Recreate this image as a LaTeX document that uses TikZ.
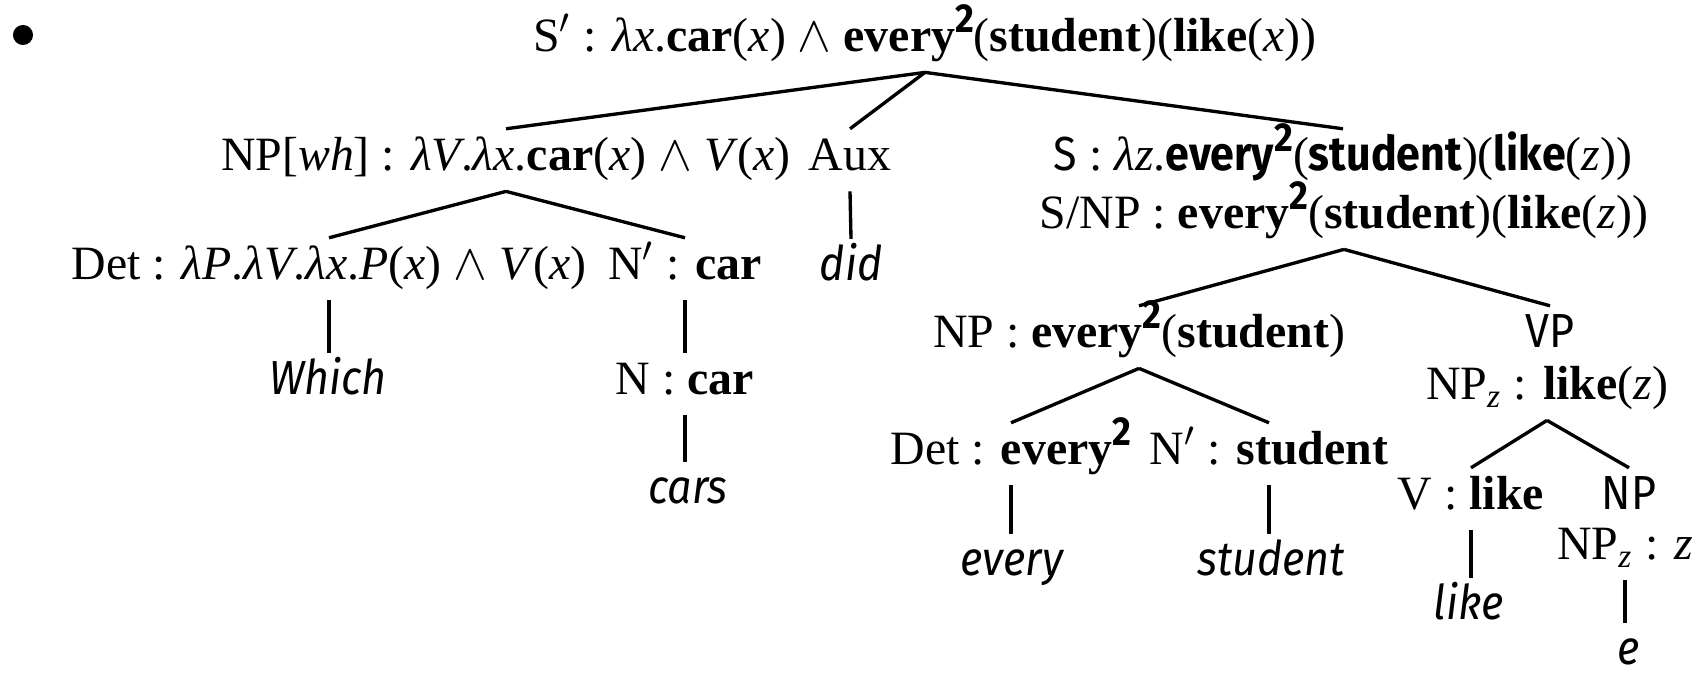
\documentclass[tikz,border=0pt]{standalone}
\usepackage{fontspec}
\setmainfont{Liberation Serif}
\setsansfont[FakeStretch=0.9]{Fira Sans}
\newcommand{\bw}[1]{\textbf{#1}}
\newcommand{\sbw}[1]{{\sffamily\bfseries #1}}
\newcommand{\two}{\raisebox{.40em}{\sffamily\bfseries\fontsize{11.5}{11.5}\selectfont 2}}
\newcommand{\vi}[1]{\textit{#1}}
\newcommand{\wrd}[1]{{\sffamily\itshape #1}}
\newcommand{\lam}{\textit{λ}}
\begin{document}
\begin{tikzpicture}[x=0.01cm,y=-0.01cm,
  lab/.style={inner sep=0pt, text height=11.8pt, text depth=5.6pt, anchor=base,
    font=\fontsize{13.6}{16}\selectfont},
  edge/.style={line width=0.95pt}]
\useasboundingbox (0,0) rectangle (1706,674);
\node[circle, fill, inner sep=0pt, minimum size=5.7pt] (bullet) at (23,35) {};
\node[lab] (root) at (925,52) {S$'$ : \lam\vi{x}.\bw{car}(\vi{x}) $\wedge$ \bw{every}\two(\bw{student})(\bw{like}(\vi{x}))};
\node[lab] (npwh) at (506,171) {NP[\vi{wh}] : \lam\vi{V}.\lam\vi{x}.\bw{car}(\vi{x}) $\wedge$ \vi{V}(\vi{x})};
\node[lab] (aux) at (850,171) {Aux};
\node[lab] (sl) at (1343,171) {{\sffamily S} : \lam\vi{z}.\sbw{every}\two(\sbw{student})(\sbw{like}(\vi{z}))};
\node[lab] (snp) at (1344,229) {S/NP : \bw{every}\two(\bw{student})(\bw{like}(\vi{z}))};
\node[lab] (det) at (329,280) {Det : \lam\vi{P}.\lam\vi{V}.\lam\vi{x}.\vi{P}(\vi{x}) $\wedge$ \vi{V}(\vi{x})};
\node[lab] (nbar) at (685,280) {N$'$ : \bw{car}};
\node[lab] (did) at (851,281) {\wrd{did}};
\node[lab] (which) at (328,395) {\wrd{Which}};
\node[lab] (n) at (685,395) {N : \bw{car}};
\node[lab] (cars) at (688,504) {\wrd{cars}};
\node[lab] (np2) at (1139,348) {NP : \bw{every}\two(\bw{student})};
\node[lab] (vp) at (1550,348) {{\sffamily VP}};
\node[lab] (npz) at (1547,400) {NP\textsubscript{\vi{z}} : \bw{like}(\vi{z})};
\node[lab] (det2) at (1011,465) {Det : \bw{every}\two};
\node[lab] (nbar2) at (1269,465) {N$'$ : \bw{student}};
\node[lab] (v) at (1471,510) {V : \bw{like}};
\node[lab] (np3) at (1629,510) {{\sffamily NP}};
\node[lab] (npzz) at (1625,560) {NP\textsubscript{\vi{z}} : \vi{z}};
\node[lab] (every) at (1012,576) {\wrd{every}};
\node[lab] (student) at (1271,576) {\wrd{student}};
\node[lab] (like) at (1469,620) {\wrd{like}};
\node[lab] (e) at (1629,665) {\wrd{e}};
\draw[edge] (root.south) -- (npwh.north);
\draw[edge] (root.south) -- (aux.north);
\draw[edge] (root.south) -- (sl.north);
\draw[edge] (npwh.south) -- (det.north);
\draw[edge] (npwh.south) -- (nbar.north);
\draw[edge] (aux.south) -- (did.north);
\draw[edge] (det.south) -- (det.south |- which.north);
\draw[edge] (nbar.south) -- (nbar.south |- n.north);
\draw[edge] (n.south) -- (n.south |- cars.north);
\draw[edge] (snp.south) -- (np2.north);
\draw[edge] (snp.south) -- (vp.north);
\draw[edge] (np2.south) -- (det2.north);
\draw[edge] (np2.south) -- (nbar2.north);
\draw[edge] (npz.south) -- (v.north);
\draw[edge] (npz.south) -- (np3.north);
\draw[edge] (det2.south) -- (det2.south |- every.north);
\draw[edge] (nbar2.south) -- (nbar2.south |- student.north);
\draw[edge] (v.south) -- (v.south |- like.north);
\draw[edge] (npzz.south) -- (npzz.south |- e.north);
\end{tikzpicture}
\end{document}
